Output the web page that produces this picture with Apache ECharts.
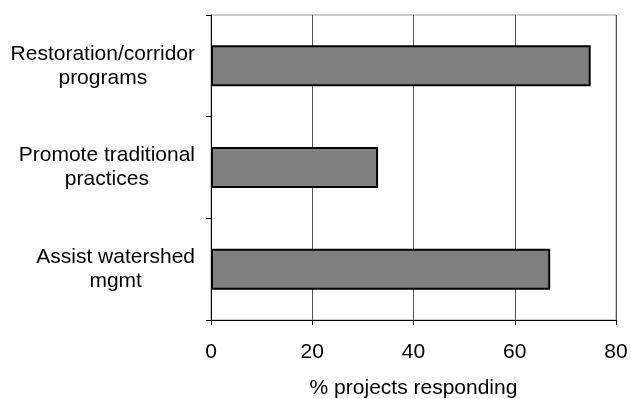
<!DOCTYPE html>
<html>
<head>
<meta charset="utf-8">
<script src="https://cdn.jsdelivr.net/npm/echarts@6/dist/echarts.min.js"></script>
<style>
html,body{margin:0;padding:0;background:#fff;}
#chart{width:631px;height:399px;}
</style>
</head>
<body>
<div id="chart"></div>
<script>
const categories = ['Restoration/corridor\nprograms', 'Promote traditional\npractices', 'Assist watershed\nmgmt'];
const values = [75, 33, 67];
const xTicks = { min: 0, max: 80, interval: 20 };
const xTitle = '% projects responding';

const FONT = '"Liberation Sans", Arial, sans-serif';
const chart = echarts.init(document.getElementById('chart'), null, { renderer: 'canvas' });
chart.setOption({
  animation: false,
  backgroundColor: '#fff',
  grid: {
    left: 211, right: 15, top: 15, bottom: 79,
    show: true, borderColor: '#999', borderWidth: 1,
    containLabel: false, outerBoundsMode: 'none'
  },
  xAxis: {
    type: 'value',
    min: xTicks.min, max: xTicks.max, interval: xTicks.interval,
    name: xTitle,
    nameLocation: 'middle',
    nameGap: 58,
    nameTextStyle: { fontFamily: FONT, fontSize: 21, color: '#000' },
    axisLine: { show: true, lineStyle: { color: '#000', width: 1 } },
    axisTick: { show: true, inside: false, length: 5, lineStyle: { color: '#000' } },
    axisLabel: { fontFamily: FONT, fontSize: 21, color: '#000', margin: 22 },
    splitLine: { show: true, lineStyle: { color: '#555', width: 1 } }
  },
  yAxis: {
    type: 'category',
    inverse: true,
    data: categories,
    axisLine: { show: true, lineStyle: { color: '#000', width: 1 } },
    axisTick: { show: true, inside: false, length: 5, alignWithLabel: false, lineStyle: { color: '#000' } },
    splitLine: { show: false },
    axisLabel: {
      margin: 16,
      align: 'right',
      fontFamily: FONT,
      fontSize: 21,
      color: '#000',
      lineHeight: 24,
      formatter: function (v) {
        return v.split('\n').map(function (s) { return '{c|' + s + '}'; }).join('\n');
      },
      rich: {
        c: { align: 'center', fontFamily: FONT, fontSize: 21, color: '#000', lineHeight: 24 }
      }
    }
  },
  series: [{
    type: 'bar',
    data: values,
    barWidth: 41,
    itemStyle: { color: '#808080', borderColor: '#000', borderWidth: 2 },
    silent: true
  }]
});
</script>
</body>
</html>
